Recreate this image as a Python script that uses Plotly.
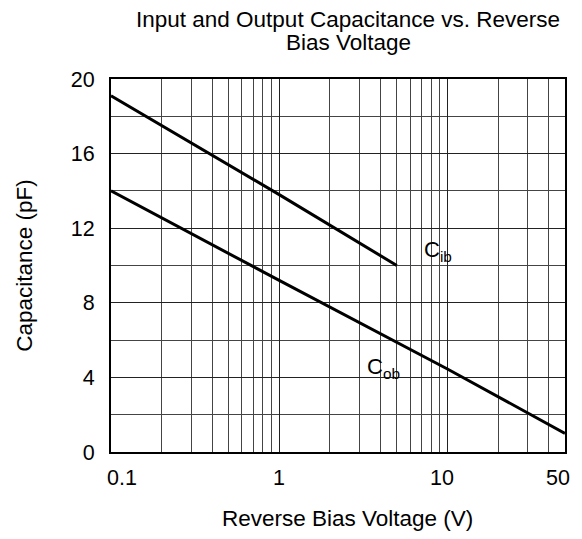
import plotly.graph_objects as go
import numpy as np

# Data
cib_v = [0.1, 1.0, 5.0]
cib_c = [19.1, 13.8, 10.0]

cob_v = [0.1, 1.0, 10.0, 50.0]
cob_c = [14.0, 9.2, 4.45, 1.0]

x_major = [0.1, 1, 10, 50]
x_major_text = ["0.1", "1", "10", "50"]
x_minor = [0.2, 0.3, 0.4, 0.5, 0.6, 0.7, 0.8, 0.9,
           2, 3, 4, 5, 6, 7, 8, 9, 20, 30, 40]
y_major = [0, 4, 8, 12, 16, 20]

FONT = "Liberation Sans, Arial, sans-serif"
x_label_shift = [11, 0, -5, -7]

fig = go.Figure()
fig.add_trace(go.Scatter(x=cib_v, y=cib_c, mode="lines",
                         line=dict(color="black", width=3), showlegend=False))
fig.add_trace(go.Scatter(x=cob_v, y=cob_c, mode="lines",
                         line=dict(color="black", width=3), showlegend=False))

fig.update_layout(
    width=582, height=539,
    margin=dict(l=111, r=17, t=79, b=87),
    paper_bgcolor="white", plot_bgcolor="white",
    font=dict(family=FONT, size=21.5, color="black"),
    showlegend=False,
)
fig.update_xaxes(
    type="log", range=[np.log10(0.1), np.log10(50)],
    tickmode="array", tickvals=x_major, ticktext=x_major_text,
    showticklabels=False,
    showgrid=True, gridcolor="#222", gridwidth=1,
    minor=dict(tickmode="array", tickvals=x_minor, showgrid=True,
               gridcolor="#444", gridwidth=1, ticks=""),
    showline=True, linecolor="black", linewidth=2, mirror=True,
    ticks="", zeroline=False,
)
fig.update_yaxes(
    range=[0, 20], tickmode="array", tickvals=y_major,
    showgrid=True, gridcolor="#222", gridwidth=1,
    minor=dict(dtick=2, tick0=0, showgrid=True, gridcolor="#444", gridwidth=1, ticks=""),
    showline=True, linecolor="black", linewidth=2, mirror=True,
    ticks="", ticklabelstandoff=10,
    title=dict(text="Capacitance (pF)", font=dict(size=22.5), standoff=32),
    zeroline=False,
)

# x tick labels (nudged inward like the reference)
for v, t, s in zip(x_major, x_major_text, x_label_shift):
    fig.add_annotation(x=np.log10(v), y=0, xref="x", yref="paper",
                       yanchor="top", yshift=-12, xshift=s,
                       text=t, showarrow=False, font=dict(size=21.5))

# x axis title
fig.add_annotation(x=0.52, y=0, xref="paper", yref="paper",
                   yanchor="top", yshift=-52,
                   text="Reverse Bias Voltage (V)", showarrow=False,
                   font=dict(size=22.5))

fig.add_annotation(x=np.log10(7.1), y=10.8, xref="x", yref="y",
                   text="C<sub>ib</sub>", showarrow=False,
                   xanchor="left", yanchor="middle", font=dict(size=22))
fig.add_annotation(x=np.log10(3.25), y=4.5, xref="x", yref="y",
                   text="C<sub>ob</sub>", showarrow=False,
                   xanchor="left", yanchor="middle", font=dict(size=22))

fig.add_annotation(x=0.523, y=1, xref="paper", yref="paper", yanchor="bottom",
                   yshift=45, text="Input and Output Capacitance vs. Reverse",
                   showarrow=False, font=dict(size=22.5))
fig.add_annotation(x=0.523, y=1, xref="paper", yref="paper", yanchor="bottom",
                   yshift=22, text="Bias Voltage",
                   showarrow=False, font=dict(size=22.5))

fig.write_html("out.html", config={"displayModeBar": False},
               post_script="document.body.style.margin='0';document.body.style.overflow='hidden';")
